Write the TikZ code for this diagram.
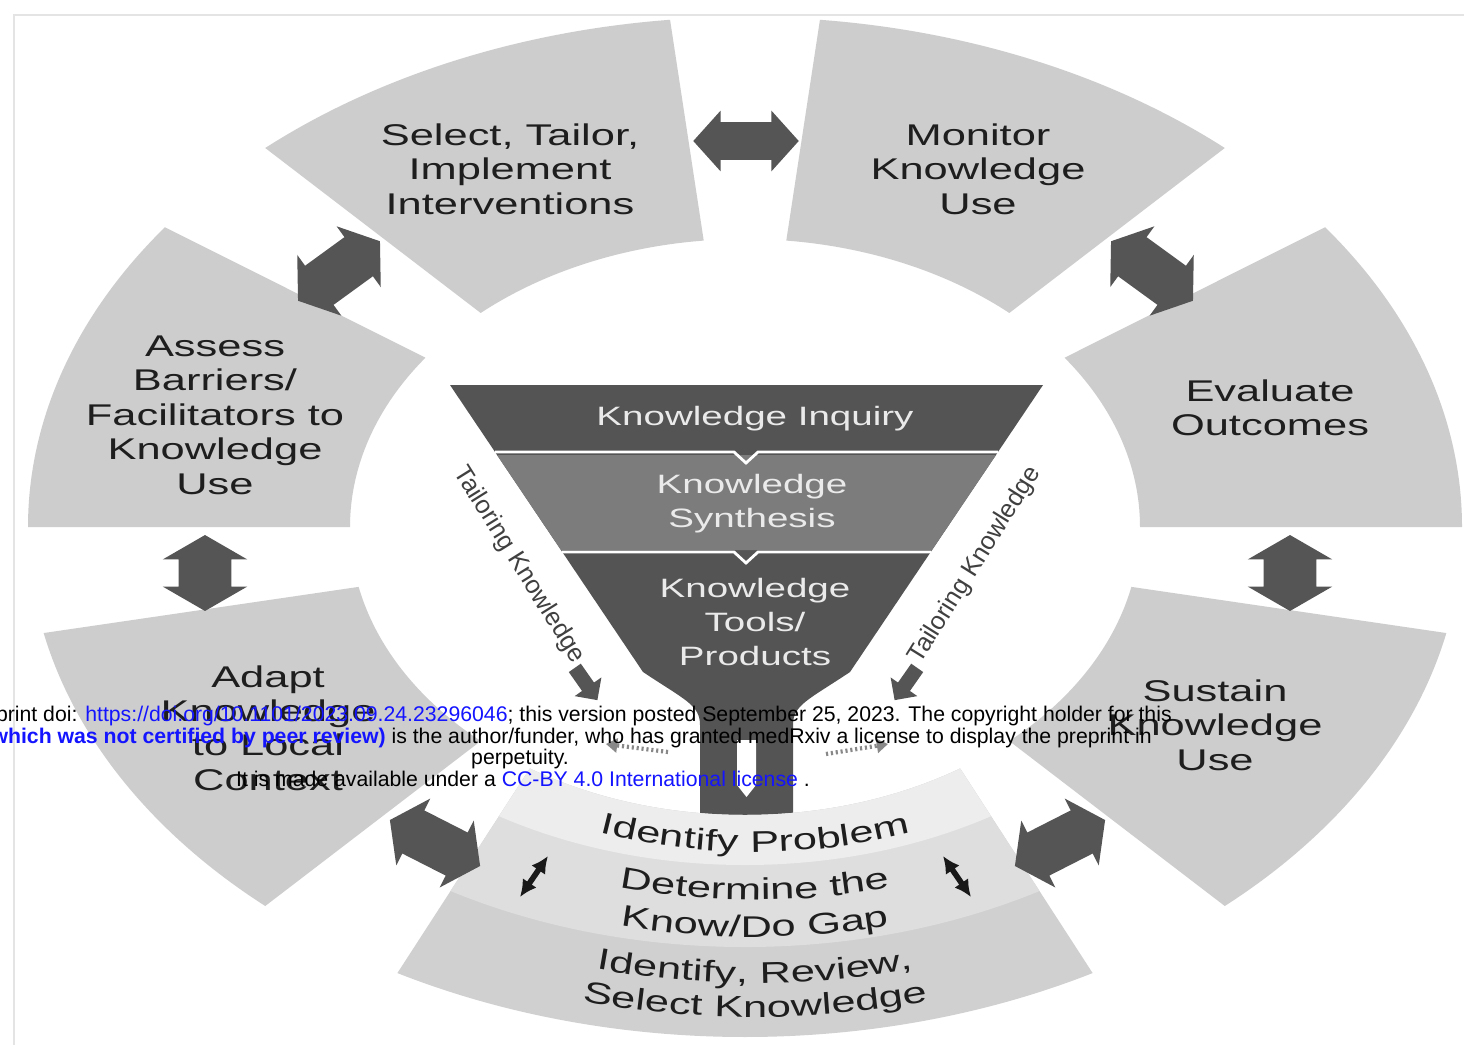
\documentclass[tikz,border=0pt]{standalone}
\usepackage{fontspec}
\setmainfont{Liberation Sans}
\newfontfamily\widesf[FakeStretch=1.45]{Liberation Sans}
\usetikzlibrary{calc}
\usetikzlibrary{arrows.meta}
\usetikzlibrary{shapes.arrows}
\usetikzlibrary{decorations.text}

\definecolor{sectorgray}{HTML}{CDCDCD}
\definecolor{bandtop}{HTML}{EDEDED}
\definecolor{bandmid}{HTML}{DEDEDE}
\definecolor{bandlow}{HTML}{D0D0D0}
\definecolor{funneldark}{HTML}{545454}
\definecolor{funnelmid}{HTML}{7C7C7C}
\definecolor{funneltxt}{HTML}{EAEAEA}
\definecolor{arrowgray}{HTML}{555555}
\definecolor{textdark}{HTML}{1E1E1E}
\definecolor{framegray}{HTML}{E4E4E4}
\definecolor{linkblue}{HTML}{1414FF}

\newcommand{\ringfont}{\widesf\fontsize{21.3}{24.5}\selectfont}
\newcommand{\funfont}{\widesf\fontsize{18.9}{24.2}\selectfont}
\newcommand{\bandfont}{\widesf\fontsize{21.3}{24.5}\selectfont\color{textdark}}
\newcommand{\tailfont}{\fontsize{18}{20}\selectfont}
\newcommand{\notefont}{\fontsize{15.1}{15.3}\selectfont}

\begin{document}
\begin{tikzpicture}[x=0.025cm, y=0.025cm,
  sector/.style={fill=sectorgray},
  ringtext/.style={font=\ringfont, text=textdark, align=center},
  funtext/.style={font=\funfont, text=funneltxt, align=center},
  tailtext/.style={font=\tailfont, text=textdark!85},
  sep/.style={draw=white, line width=2pt},
  blockarr/.style={double arrow, fill=arrowgray, inner xsep=0pt, double arrow head indent=0pt},
  harr/.style={blockarr, minimum height=75pt, inner ysep=13.2pt, double arrow head extend=8.2pt, double arrow tip angle=96},
  varr/.style={blockarr, minimum height=54pt, inner ysep=18.5pt, double arrow head extend=11.4pt, double arrow tip angle=120},
  darr/.style={blockarr, minimum height=72pt, inner ysep=17pt, double arrow head extend=9.5pt, double arrow tip angle=110},
  tailarr/.style={single arrow, fill=arrowgray, inner xsep=0pt, inner ysep=5pt, minimum height=28pt, single arrow head extend=6.4pt, single arrow head indent=0pt},
  smallarr/.style={{Latex[length=12pt,width=12pt]}-{Latex[length=12pt,width=12pt]}, line width=4pt, black!90},
  dotline/.style={arrowgray!70, line width=3pt, dash pattern=on 1.5pt off 2pt, -{Triangle[length=8pt,width=10pt]}},
  bandtext/.style={decorate, decoration={text along path, text align=center, text={|\bandfont|#1}}},
  note/.style={font=\notefont, inner sep=0pt}
]
\useasboundingbox (0,0) rectangle (1464,-1045);
\clip (0,0) rectangle (1464,-1045);
\fill[white] (0,0) rectangle (1464,-1045);
\draw[framegray, line width=1.8pt] (14,-1045) -- (14,-15) -- (1464,-15);

\begin{scope}[shift={(745,-527)}]
\foreach \a/\b in {0/36, 48/84, 96/132, 144/180, 192/228, 312/348} {
  \fill[sector] (\a:717 and 510) arc[start angle=\a, end angle=\b, x radius=717, y radius=510]
    -- (\b:395 and 288) arc[start angle=\b, end angle=\a, x radius=395, y radius=288] -- cycle;
}
\end{scope}

\fill[funneldark] (450,-385) -- (1043,-385) -- (850,-672) .. controls (808,-700) and (793,-705) .. (793,-725)
  -- (793,-830) -- (700,-830) -- (700,-725) .. controls (700,-705) and (685,-700) .. (643,-672) -- cycle;
\fill[funnelmid] (497,-455) -- (996,-455) -- (932,-550) -- (561,-550) -- cycle;
\draw[sep] (495,-452) -- (734,-452) -- (746,-463) -- (758,-452) -- (998,-452);
\draw[sep] (562,-552) -- (734,-552) -- (746,-563) -- (758,-552) -- (931,-552);
\fill[white] (737,-740) -- (756,-740) -- (756,-785) -- (746.5,-797) -- (737,-785) -- cycle;

\begin{scope}[shift={(745,-527)}]
\clip (241:717 and 510) arc[start angle=241, end angle=299, x radius=717, y radius=510]
  -- (303:395 and 288) arc[start angle=303, end angle=237, x radius=395, y radius=288] -- cycle;
\fill[bandlow] (-720,0) rectangle (720,-520);
\fill[bandmid] (0,0) ellipse[x radius=590, y radius=420];
\fill[bandtop] (0,0) ellipse[x radius=475, y radius=338];
\end{scope}

\begin{scope}[shift={(755,-527)}]
\path[bandtext={Identify Problem}] (240:457 and 325) arc[start angle=240, end angle=300, x radius=457, y radius=325];
\path[bandtext={Determine the}] (240:524 and 373) arc[start angle=240, end angle=300, x radius=524, y radius=373];
\path[bandtext={Know/Do Gap}] (240:576 and 410) arc[start angle=240, end angle=300, x radius=576, y radius=410];
\path[bandtext={Identify, Review,}] (240:641 and 456) arc[start angle=240, end angle=300, x radius=641, y radius=456];
\path[bandtext={Select Knowledge}] (240:689 and 490) arc[start angle=240, end angle=300, x radius=689, y radius=490];
\end{scope}

\node[ringtext] (select) at (510,-169) {Select, Tailor,\\Implement\\Interventions};
\node[ringtext] (monitor) at (978,-169) {Monitor\\Knowledge\\Use};
\node[ringtext] (assess) at (215,-415) {Assess\\Barriers/\\Facilitators to\\Knowledge\\Use};
\node[ringtext] (evaluate) at (1270,-408) {Evaluate\\Outcomes};
\node[ringtext] (adapt) at (268,-728) {Adapt\\Knowledge\\to Local\\Context};
\node[ringtext] (sustain) at (1215,-725) {Sustain\\Knowledge\\Use};

\node[funtext] (inquiry) at (755,-419) {Knowledge Inquiry};
\node[funtext] (synthesis) at (752,-504) {Knowledge\\Synthesis};
\node[funtext] (tools) at (755,-622) {Knowledge\\Tools/\\Products};

\node[harr] (arrSM) at (746,-141) {};
\node[darr, rotate=36] (arrSA) at (339,-271) {};
\node[darr, rotate=-36] (arrME) at (1152,-271) {};
\node[varr, rotate=90] (arrAA) at (205,-573) {};
\node[varr, rotate=90] (arrES) at (1290,-573) {};
\node[darr, rotate=-27] (arrAB) at (435,-843) {};
\node[darr, rotate=27] (arrSB) at (1060,-843) {};

\coordinate (gl1) at (520,-897);
\coordinate (gl2) at (548,-856);
\coordinate (gr1) at (943,-856);
\coordinate (gr2) at (971,-897);
\draw[smallarr] (gl1) -- (gl2);
\draw[smallarr] (gr1) -- (gr2);

\node[tailtext, rotate=-58] (tailL) at (519,-565) {Tailoring Knowledge};
\node[tailtext, rotate=58] (tailR) at (975,-565) {Tailoring Knowledge};
\node[tailarr, rotate=-55] (tipL) at (584,-681) {};
\node[tailarr, rotate=-125] (tipR) at (908,-681) {};
\coordinate (dL1) at (668,-752);
\coordinate (dL2) at (606,-744);
\coordinate (dR1) at (826,-754);
\coordinate (dR2) at (888,-744);
\draw[dotline] (dL1) -- (dL2);
\draw[dotline] (dR1) -- (dR2);

\node[note, anchor=base east] (doi) at (1172,-721) {print doi: \textcolor{linkblue}{https://doi.org/10.1101/2023.09.24.23296046}; this version posted September 25, 2023. The copyright holder for this};
\node[note, anchor=base east] (cert) at (1152,-743) {\textcolor{linkblue}{\bfseries (which was not certified by peer review)} is the author/funder, who has granted medRxiv a license to display the preprint in};
\node[note, anchor=base] (perp) at (520,-764) {perpetuity.};
\node[note, anchor=base] (lic) at (523,-786) {It is made available under a \textcolor{linkblue}{CC-BY 4.0 International license} .};
\end{tikzpicture}
\end{document}
